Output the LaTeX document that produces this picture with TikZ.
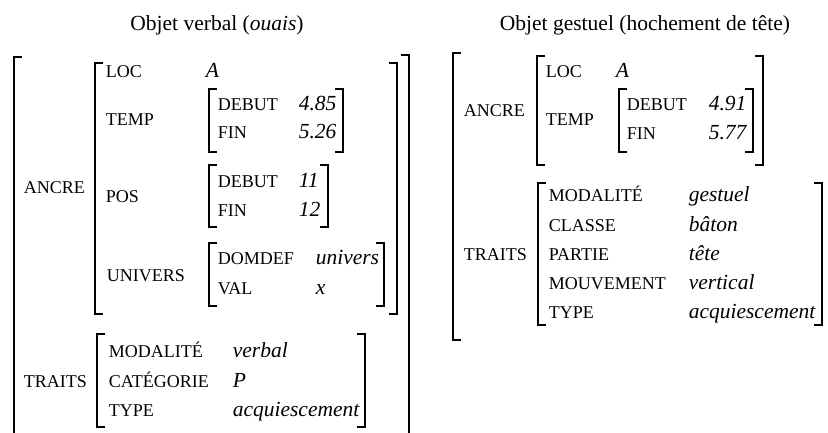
\documentclass[tikz,border=0pt]{standalone}
\usepackage{fontspec}
\setmainfont{Liberation Serif}
\usepackage{tikz}
\usetikzlibrary{positioning}

% left and right brackets: x, top, bottom
\newcommand{\lbrk}[3]{\draw (#1+8,#2) -- (#1,#2) -- (#1,#3) -- (#1+8,#3);}
\newcommand{\rbrk}[3]{\draw (#1-8,#2) -- (#1,#2) -- (#1,#3) -- (#1-8,#3);}

\begin{document}
\begin{tikzpicture}[x=1pt, y=-1pt, line width=1.6pt,
  attr/.style={anchor=base west, inner sep=0pt, font=\fontsize{18}{21}\selectfont},
  val/.style={anchor=base west, inner sep=0pt, font=\fontsize{21.5}{25}\selectfont\itshape},
  titre/.style={anchor=base, inner sep=0pt, font=\fontsize{21.5}{25}\selectfont}]

\useasboundingbox (0,0) rectangle (828,433);

\node[titre](t1) at (217,31) {Objet verbal (\textit{ouais})};
\node[titre](t2) at (645,31) {Objet gestuel (hochement de tête)};

% objet verbal
\draw (22,57) -- (14,57) -- (14,433);
\draw (401,55) -- (409,55) -- (409,433);

\node[attr](v-ancre) at (23,194) {ANCRE};
\lbrk{95}{63}{314}
\rbrk{397}{63}{314}

\node[attr](v-loc) at (105,78) {LOC};
\node[val](v-a) at (205,78) {A};

\node[attr](v-temp) at (105,126) {TEMP};
\lbrk{209}{89}{152}
\rbrk{343}{89}{152}
\node[attr](v-tdeb) at (217,111) {DEBUT};
\node[val](v-tdebv) at (298,111) {4.85};
\node[attr](v-tfin) at (217,139) {FIN};
\node[val](v-tfinv) at (298,139) {5.26};

\node[attr](v-pos) at (105,203) {POS};
\lbrk{209}{165}{227}
\rbrk{328}{165}{227}
\node[attr](v-pdeb) at (217,188) {DEBUT};
\node[val](v-pdebv) at (298,188) {11};
\node[attr](v-pfin) at (217,217) {FIN};
\node[val](v-pfinv) at (298,217) {12};

\node[attr](v-univ) at (106,281) {UNIVERS};
\lbrk{209}{243}{306}
\rbrk{384}{243}{306}
\node[attr](v-dom) at (217,265) {DOMDEF};
\node[val](v-domv) at (315,265) {univers};
\node[attr](v-val) at (217,294) {VAL};
\node[val](v-valv) at (315,294) {x};

\node[attr](v-traits) at (23,387) {TRAITS};
\lbrk{97}{334}{427}
\rbrk{365}{334}{427}
\node[attr](v-mod) at (108,357) {MODALITÉ};
\node[val](v-modv) at (232,357) {verbal};
\node[attr](v-cat) at (108,387) {CATÉGORIE};
\node[val](v-catv) at (232,387) {P};
\node[attr](v-type) at (108,416) {TYPE};
\node[val](v-typev) at (232,416) {acquiescement};

% objet gestuel
\lbrk{453}{53}{340}

\node[attr](g-ancre) at (463,117) {ANCRE};
\lbrk{537}{56}{165}
\rbrk{763}{56}{165}
\node[attr](g-loc) at (545,78) {LOC};
\node[val](g-a) at (615,78) {A};
\node[attr](g-temp) at (545,126) {TEMP};
\lbrk{619}{89}{152}
\rbrk{753}{89}{152}
\node[attr](g-tdeb) at (626,111) {DEBUT};
\node[val](g-tdebv) at (708,111) {4.91};
\node[attr](g-tfin) at (626,140) {FIN};
\node[val](g-tfinv) at (708,140) {5.77};

\node[attr](g-traits) at (463,260) {TRAITS};
\lbrk{538}{183}{325}
\rbrk{822}{183}{325}
\node[attr](g-mod) at (548,202) {MODALITÉ};
\node[val](g-modv) at (688,202) {gestuel};
\node[attr](g-cla) at (548,231) {CLASSE};
\node[val](g-clav) at (688,231) {bâton};
\node[attr](g-par) at (548,260) {PARTIE};
\node[val](g-parv) at (688,260) {tête};
\node[attr](g-mou) at (548,289) {MOUVEMENT};
\node[val](g-mouv) at (688,289) {vertical};
\node[attr](g-type) at (548,318) {TYPE};
\node[val](g-typev) at (688,318) {acquiescement};

\end{tikzpicture}
\end{document}
